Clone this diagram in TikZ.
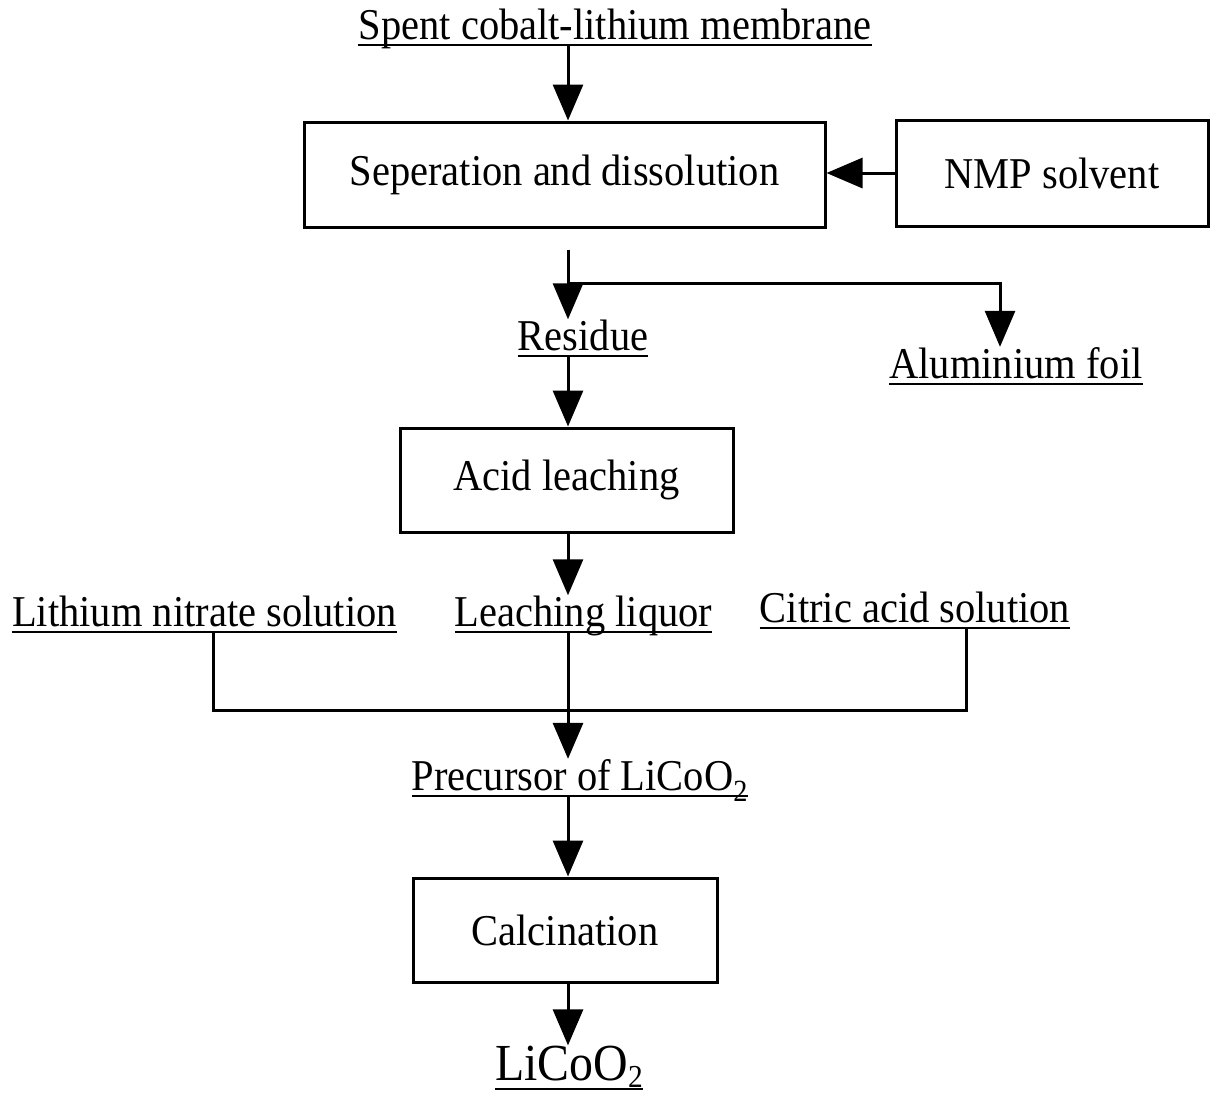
\documentclass[tikz,border=0pt]{standalone}
\usepackage{fontspec}
\setmainfont{Liberation Serif}[FakeStretch=0.92]
\usetikzlibrary{arrows.meta,calc}
\newcommand\fsA{\fontsize{44}{50}\selectfont}
\newcommand\fsB{\fontsize{52}{58}\selectfont}
\begin{document}
\begin{tikzpicture}[x=1pt,y=-1pt,
  lab/.style={inner sep=0pt, anchor=base, font=\fsA},
  proc/.style={draw, line width=3pt, inner sep=0pt, font=\fsA},
  ln/.style={line width=3pt},
  arr/.style={line width=3pt, -{Triangle[length=36pt,width=30pt]}},
  uline/.style={line width=2.5pt}]
\fill[white] (0,0) rectangle (1210,1104);
\useasboundingbox (0,0) rectangle (1210,1104);
\coordinate (ax) at (568,0);
% process boxes
\node[proc, minimum width=521pt, minimum height=105pt] (s1) at (564.5,174.5) {Seperation and dissolution};
\node[proc, minimum width=312pt, minimum height=106pt] (nmp) at (1052,173) {NMP solvent};
\node[proc, minimum width=333pt, minimum height=104pt] (s2) at (566.5,480) {Acid leaching};
\node[proc, minimum width=304pt, minimum height=104pt] (s3) at (565,930) {Calcination};
% labels
\node[lab] (title) at (615,39) {Spent cobalt-lithium membrane};
\node[lab] (res) at (583,350) {Residue};
\node[lab] (alu) at (1016,378) {Aluminium foil};
\node[lab] (lith) at (204.5,626) {Lithium nitrate solution};
\node[lab] (leach) at (583.5,626) {Leaching liquor};
\node[lab] (cit) at (915,622) {Citric acid solution};
\node[lab] (prec) at (580,790) {Precursor of LiCoO\textsubscript{2}};
\node[lab, font=\fsB] (lico) at (569,1080) {LiCoO\raisebox{-7pt}{\fontsize{32}{34}\selectfont 2}};
% underlines
\foreach \n in {title,res,alu,lith,leach,cit,prec}
  \draw[uline] ([yshift=-6pt]\n.base west) -- ([yshift=-6pt]\n.base east);
\draw[uline] ([yshift=-9pt]lico.base west) -- ([yshift=-9pt]lico.base east);
% connectors
\draw[arr] ($(title.base -| ax)+(0,6)$) -- (s1.north -| ax);
\draw[arr] (nmp.west) -- (s1.east |- nmp.west);
\coordinate (b0) at ([yshift=-21pt]s1.south -| ax);
\coordinate (j1) at (568,283);
\coordinate (j2) at (1000,283);
\draw[arr] (b0) -- (res.north -| ax);
\draw[arr] (j1) -- (j2) -- (alu.north -| j2);
\draw[arr] ($(res.base -| ax)+(0,6)$) -- (s2.north -| ax);
\draw[arr] (s2.south -| ax) -- (leach.north -| ax);
\coordinate (m1) at (213,710);
\coordinate (m2) at (966,710);
\draw[ln] ($(lith.base -| m1)+(0,6)$) -- (m1) -- (m2) -- ($(cit.base -| m2)+(0,6)$);
\draw[arr] ($(leach.base -| ax)+(0,6)$) -- (prec.north -| ax);
\draw[arr] ($(prec.base -| ax)+(0,6)$) -- (s3.north -| ax);
\draw[arr] (s3.south -| ax) -- (lico.north -| ax);
\end{tikzpicture}
\end{document}
